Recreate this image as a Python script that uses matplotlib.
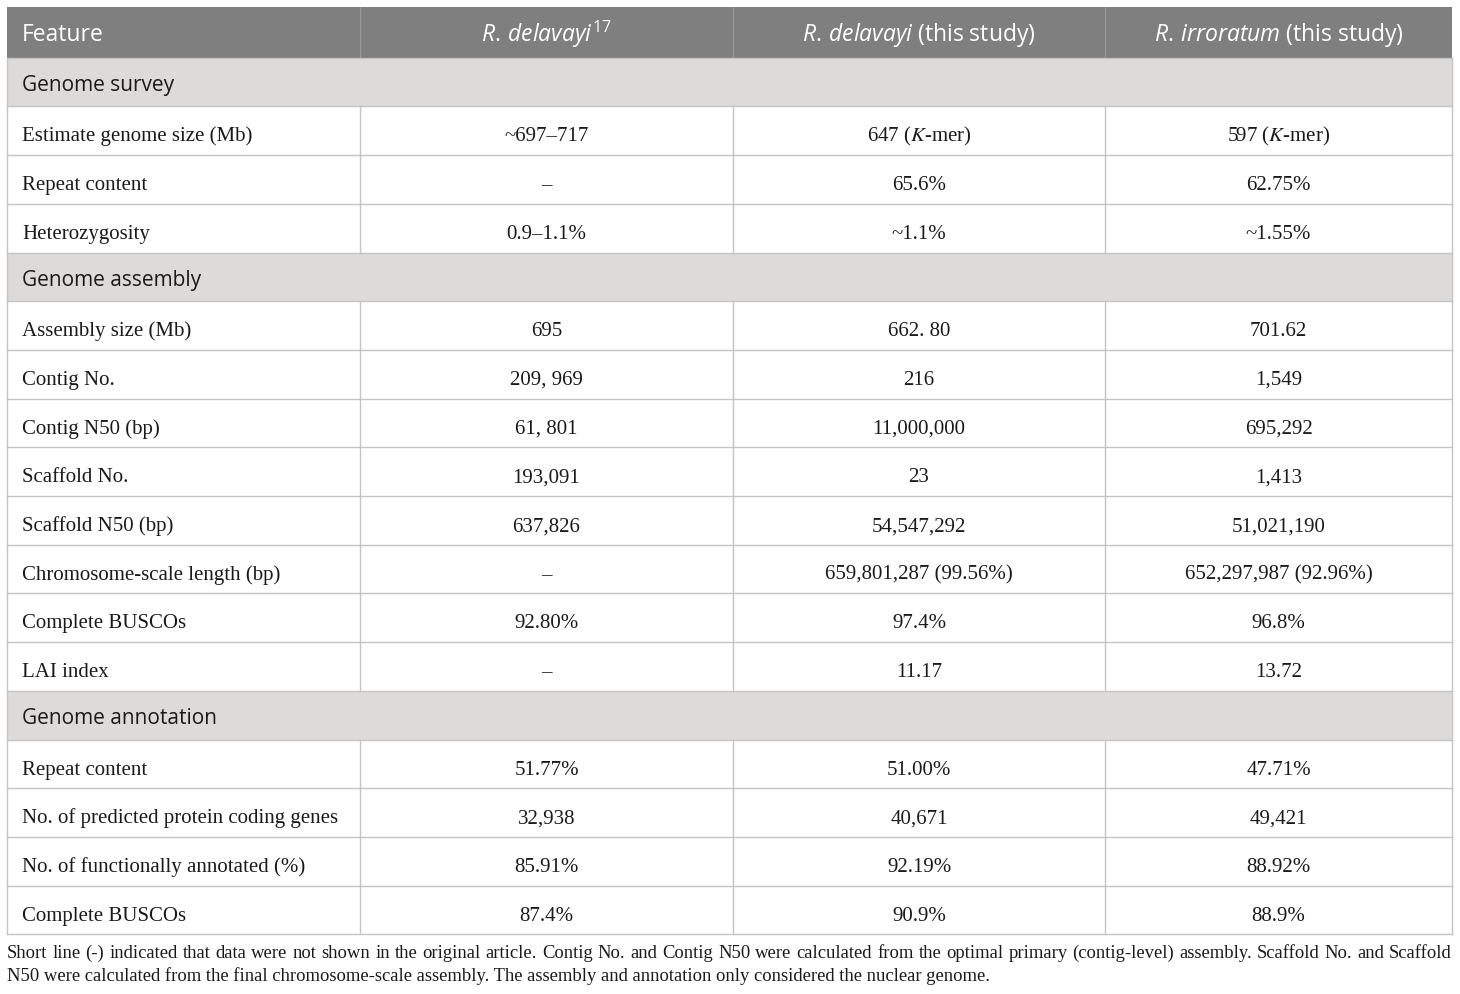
import matplotlib
matplotlib.use("Agg")
import matplotlib.pyplot as plt

plt.rcParams['mathtext.fontset'] = 'custom'
plt.rcParams['mathtext.rm'] = 'Open Sans'
plt.rcParams['mathtext.it'] = 'Open Sans:italic'

# table content
header = ["Feature",
          r"$\mathit{R.\,delavayi}^{\mathrm{17}}$",
          r"$\mathit{R.\,delavayi}$ (this study)",
          r"$\mathit{R.\,irroratum}$ (this study)"]

sections = ["Genome survey", "Genome assembly", "Genome annotation"]

survey_feat = ["Estimate genome size (Mb)", "Repeat content", "Heterozygosity"]
survey_ref = ["~697\u2013717", "\u2013", "0.9\u20131.1%"]
survey_del = [r"647 ($\mathit{K}$-mer)", "65.6%", "~1.1%"]
survey_irr = [r"597 ($\mathit{K}$-mer)", "62.75%", "~1.55%"]

assembly_feat = ["Assembly size (Mb)", "Contig No.", "Contig N50 (bp)", "Scaffold No.",
                 "Scaffold N50 (bp)", "Chromosome-scale length (bp)", "Complete BUSCOs",
                 "LAI index"]
assembly_ref = ["695", "209, 969", "61, 801", "193,091", "637,826", "\u2013", "92.80%", "\u2013"]
assembly_del = ["662. 80", "216", "11,000,000", "23", "54,547,292",
                "659,801,287 (99.56%)", "97.4%", "11.17"]
assembly_irr = ["701.62", "1,549", "695,292", "1,413", "51,021,190",
                "652,297,987 (92.96%)", "96.8%", "13.72"]

annot_feat = ["Repeat content", "No. of predicted protein coding genes",
              "No. of functionally annotated (%)", "Complete BUSCOs"]
annot_ref = ["51.77%", "32,938", "85.91%", "87.4%"]
annot_del = ["51.00%", "40,671", "92.19%", "90.9%"]
annot_irr = ["47.71%", "49,421", "88.92%", "88.9%"]

footnote1 = ("Short line (-) indicated that data were not shown in the original article. "
             "Contig No. and Contig N50 were calculated from the optimal primary (contig-level) "
             "assembly. Scaffold No. and Scaffold")
footnote2 = ("N50 were calculated from the final chromosome-scale assembly. "
             "The assembly and annotation only considered the nuclear genome.")

blocks = [
    (sections[0], survey_feat, survey_ref, survey_del, survey_irr),
    (sections[1], assembly_feat, assembly_ref, assembly_del, assembly_irr),
    (sections[2], annot_feat, annot_ref, annot_del, annot_irr),
]

# layout
W, H = 1460, 995
col_x = [7, 360, 733, 1105, 1452]
top = 8
row_h = 48.7
head_bg = "#7f7f7f"
sect_bg = "#dcdbd9"
grid_c = "#c4c4c4"
txt_c = "#1a1a1a"
sans = "Open Sans"
serif = "Liberation Serif"
body_fs = 15
head_fs = 16.5
sect_fs = 15
foot_fs = 13.4

fig = plt.figure(figsize=(W / 100, H / 100), dpi=100)
ax = fig.add_axes([0, 0, 1, 1])
ax.set_xlim(0, W)
ax.set_ylim(H, 0)
ax.axis("off")

# header row
ax.add_patch(plt.Rectangle((col_x[0], top), col_x[-1] - col_x[0], row_h + 2,
                           color=head_bg, lw=0))
for j, lab in enumerate(header):
    if j == 0:
        ax.text(col_x[0] + 15, top + 0.66 * (row_h + 2), lab, color="white", fontsize=head_fs,
                family=sans, ha="left", va="baseline", math_fontfamily="custom")
    else:
        ax.text((col_x[j] + col_x[j + 1]) / 2, top + 0.66 * (row_h + 2), lab, color="white",
                fontsize=head_fs, family=sans, ha="center", va="baseline",
                math_fontfamily="custom")
for x in col_x[1:-1]:
    ax.plot([x, x], [top, top + row_h + 2], color="#9a9a9a", lw=0.8)

y = top + row_h + 2
for name, feat, ref, dele, irr in blocks:
    ax.add_patch(plt.Rectangle((col_x[0], y), col_x[-1] - col_x[0], row_h,
                               color=sect_bg, lw=0))
    ax.text(col_x[0] + 15, y + 0.67 * row_h, name, color=txt_c, fontsize=sect_fs,
            family=sans, ha="left", va="baseline")
    ax.plot([col_x[0], col_x[-1]], [y, y], color=grid_c, lw=1)
    ax.plot([col_x[0], col_x[0]], [y, y + row_h], color=grid_c, lw=1)
    ax.plot([col_x[-1], col_x[-1]], [y, y + row_h], color=grid_c, lw=1)
    y += row_h
    for i in range(len(feat)):
        ax.plot([col_x[0], col_x[-1]], [y, y], color=grid_c, lw=1)
        for x in col_x:
            ax.plot([x, x], [y, y + row_h], color=grid_c, lw=1)
        base = y + 0.70 * row_h
        ax.text(col_x[0] + 15, base, feat[i], color=txt_c, fontsize=body_fs, family=serif,
                ha="left", va="baseline")
        for j, v in enumerate([ref[i], dele[i], irr[i]]):
            ax.text((col_x[j + 1] + col_x[j + 2]) / 2, base, v, color=txt_c,
                    fontsize=body_fs, family=serif, ha="center", va="baseline",
                    math_fontfamily="stix")
        y += row_h
ax.plot([col_x[0], col_x[-1]], [y, y], color=grid_c, lw=1)

# footnote, first line justified across the table width
fig.canvas.draw()
r = fig.canvas.get_renderer()
words = footnote1.split(" ")
arts = [ax.text(0, 0, w, fontsize=foot_fs, family=serif, color=txt_c, va="baseline")
        for w in words]
widths = [a.get_window_extent(r).width for a in arts]
gap = ((col_x[-1] - col_x[0]) - sum(widths)) / (len(words) - 1)
xx = col_x[0]
for a, w in zip(arts, widths):
    a.set_position((xx, y + 23))
    xx += w + gap
ax.text(col_x[0], y + 46, footnote2, fontsize=foot_fs, family=serif, color=txt_c,
        va="baseline")

fig.savefig("out.png", dpi=100)
